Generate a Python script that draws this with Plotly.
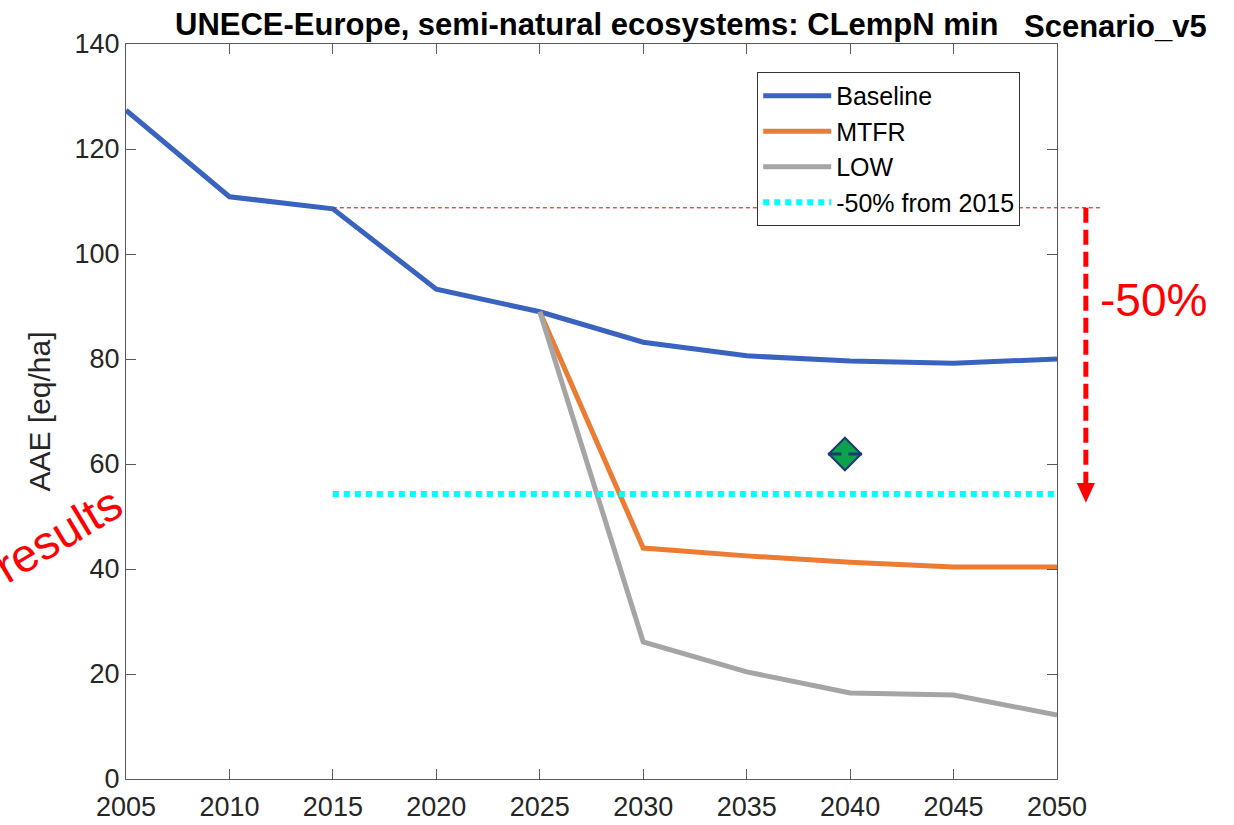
import plotly.graph_objects as go

years = [2005, 2010, 2015, 2020, 2025, 2030, 2035, 2040, 2045, 2050]
baseline = [127.4, 110.9, 108.6, 93.3, 89.0, 83.2, 80.6, 79.6, 79.2, 80.0]
mtfr_years = [2025, 2030, 2035, 2040, 2045, 2050]
mtfr = [89.0, 44.0, 42.5, 41.3, 40.4, 40.4]
low_years = [2025, 2030, 2035, 2040, 2045, 2050]
low = [89.0, 26.1, 20.4, 16.4, 16.0, 12.2]
target_years = [2015, 2050]
target_value = 54.3
ref_2015 = 108.8
marker_point = (2039.75, 61.9)
arrow_end = 56.4
arrow_tip = 52.6

X0, X1 = 2005, 2050
FONT = "Liberation Sans, Arial, sans-serif"

fig = go.Figure()
fig.add_trace(go.Scatter(x=years, y=baseline, mode="lines", name="Baseline",
                         line=dict(color="#3A63BF", width=5)))
fig.add_trace(go.Scatter(x=mtfr_years, y=mtfr, mode="lines", name="MTFR",
                         line=dict(color="#EC7B33", width=5)))
fig.add_trace(go.Scatter(x=low_years, y=low, mode="lines", name="LOW",
                         line=dict(color="#A5A5A5", width=5)))
fig.add_trace(go.Scatter(x=target_years, y=[target_value] * 2, mode="lines",
                         name="-50% from 2015",
                         line=dict(color="#00FFFF", width=6, dash="6px,5px")))
# diamond marker
fig.add_trace(go.Scatter(x=[marker_point[0]], y=[marker_point[1]], mode="markers",
                         showlegend=False,
                         marker=dict(symbol="diamond", size=25, color="#0AA24B",
                                     line=dict(color="#1F3A70", width=2))))
fig.add_trace(go.Scatter(x=[marker_point[0]], y=[marker_point[1]], mode="markers",
                         showlegend=False,
                         marker=dict(symbol="line-ew", size=24,
                                     line=dict(color="#1F3A70", width=3))))
fig.add_trace(go.Scatter(x=[marker_point[0]], y=[marker_point[1]], mode="markers",
                         showlegend=False,
                         marker=dict(symbol="square", size=7, color="#0AA24B",
                                     line=dict(width=0))))

px0 = (2015 - X0) / (X1 - X0)
arrow_x = 1.031
fig.add_shape(type="line", xref="paper", yref="y", x0=px0, x1=1.046,
              y0=ref_2015, y1=ref_2015,
              line=dict(color="#E00000", width=1, dash="4px,3px"))
fig.add_shape(type="line", xref="paper", yref="y", x0=arrow_x, x1=arrow_x,
              y0=ref_2015, y1=arrow_end,
              line=dict(color="#FF0000", width=5, dash="15px,7px"))
fig.add_shape(type="path", xref="paper", yref="y",
              path=f"M {arrow_x-0.0097},{arrow_end} L {arrow_x+0.0097},{arrow_end} L {arrow_x},{arrow_tip} Z",
              fillcolor="#FF0000", line=dict(color="#FF0000", width=0))

fig.add_annotation(text="<b>UNECE-Europe, semi-natural ecosystems: CLempN min</b>",
                   xref="paper", yref="paper", x=0.050, y=1.0, xanchor="left",
                   yanchor="bottom", yshift=0, showarrow=False,
                   font=dict(family=FONT, size=31, color="#000000"))
fig.add_annotation(text="<b>Scenario_v5</b>",
                   xref="paper", yref="paper", x=1.063, y=1.0, xanchor="center",
                   yanchor="bottom", yshift=-2, showarrow=False,
                   font=dict(family=FONT, size=31, color="#000000"))
fig.add_annotation(text="-50%", xref="paper", yref="y", x=1.104, y=91.2,
                   xanchor="center", yanchor="middle",
                   showarrow=False, font=dict(family=FONT, size=46, color="#FF0000"))
fig.add_annotation(text="results", xref="paper", yref="y", x=-0.073, y=46.5,
                   xanchor="center", yanchor="middle",
                   showarrow=False, textangle=-31,
                   font=dict(family=FONT, size=47, color="#FF0000"))

axis_common = dict(showline=True, linecolor="#5a5a5a", linewidth=1.2, mirror="allticks",
                   ticks="inside", ticklen=10, tickcolor="#5a5a5a", showgrid=False,
                   zeroline=False, automargin=False,
                   tickfont=dict(family=FONT, size=27, color="#262626"))
fig.update_xaxes(range=[X0, X1], tickvals=years, ticklabelstandoff=3, **axis_common)
fig.update_yaxes(range=[0, 140], tickvals=list(range(0, 141, 20)),
                 title=dict(text="AAE [eq/ha]", standoff=14,
                            font=dict(family=FONT, size=30, color="#262626")),
                 **axis_common)

fig.update_layout(
    width=1234, height=825,
    margin=dict(l=126, r=177, t=44, b=46),
    plot_bgcolor="white", paper_bgcolor="white",
    font=dict(family=FONT),
    legend=dict(x=0.678, y=0.962, xanchor="left", yanchor="top",
                bgcolor="white", bordercolor="#333333", borderwidth=1,
                font=dict(family=FONT, size=25, color="#000000"),
                itemwidth=68, tracegroupgap=0),
)

fig.write_html("out.html", config={"displayModeBar": False},
               post_script="document.body.style.margin='0px';")
